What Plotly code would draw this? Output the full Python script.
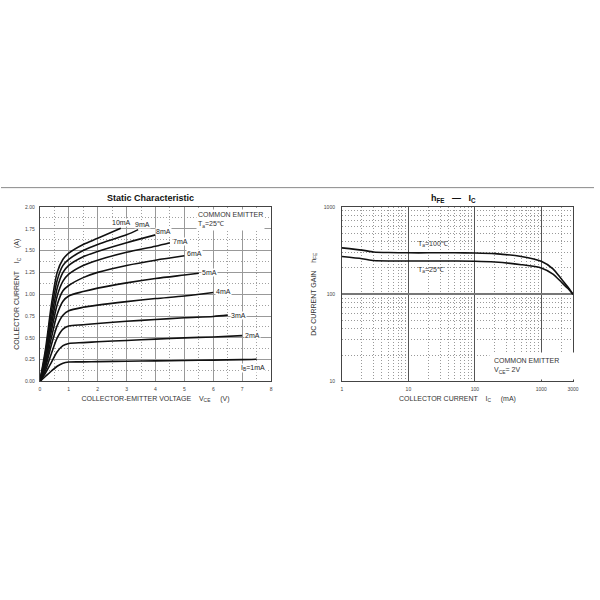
import plotly.graph_objects as go

# ---------------- data: static characteristic (Ic vs Vce) ----------------
vce_1mA = [0, 0.2, 0.4, 0.6, 0.8, 1.0, 1.5, 2, 3, 4, 5, 6, 7, 7.5]
ic_1mA = [0, 0.06, 0.12, 0.175, 0.21, 0.223, 0.225, 0.228, 0.232, 0.236, 0.24, 0.245, 0.25, 0.255]
vce_2mA = [0, 0.2, 0.4, 0.6, 0.8, 1.0, 1.5, 2, 3, 4, 5, 6, 7]
ic_2mA = [0, 0.1, 0.22, 0.34, 0.41, 0.435, 0.445, 0.455, 0.47, 0.485, 0.5, 0.51, 0.525]
vce_3mA = [0, 0.2, 0.4, 0.6, 0.8, 1.0, 1.5, 2, 3, 4, 5, 6, 6.5]
ic_3mA = [0, 0.13, 0.32, 0.5, 0.6, 0.635, 0.65, 0.665, 0.69, 0.71, 0.73, 0.745, 0.76]
vce_4mA = [0, 0.2, 0.4, 0.6, 0.8, 1.0, 1.5, 2, 3, 4, 5, 6]
ic_4mA = [0, 0.17, 0.42, 0.64, 0.76, 0.81, 0.85, 0.875, 0.915, 0.95, 0.98, 1.02]
vce_5mA = [0, 0.2, 0.4, 0.6, 0.8, 1.0, 1.5, 2, 3, 4, 5, 5.5]
ic_5mA = [0, 0.2, 0.5, 0.77, 0.92, 0.98, 1.03, 1.07, 1.13, 1.18, 1.22, 1.24]
vce_6mA = [0, 0.2, 0.4, 0.6, 0.8, 1.0, 1.5, 2, 3, 4, 5]
ic_6mA = [0, 0.24, 0.58, 0.88, 1.04, 1.10, 1.19, 1.25, 1.33, 1.39, 1.44]
vce_7mA = [0, 0.2, 0.4, 0.6, 0.8, 1.0, 1.5, 2, 3, 4, 4.5]
ic_7mA = [0, 0.27, 0.65, 0.98, 1.15, 1.23, 1.33, 1.39, 1.48, 1.55, 1.59]
vce_8mA = [0, 0.2, 0.4, 0.6, 0.8, 1.0, 1.5, 2, 3, 4]
ic_8mA = [0, 0.3, 0.72, 1.07, 1.25, 1.33, 1.43, 1.49, 1.59, 1.68]
vce_9mA = [0, 0.2, 0.4, 0.6, 0.8, 1.0, 1.5, 2, 3, 3.4]
ic_9mA = [0, 0.34, 0.8, 1.16, 1.33, 1.40, 1.50, 1.57, 1.68, 1.74]
vce_10mA = [0, 0.2, 0.4, 0.6, 0.8, 1.0, 1.5, 2, 2.8]
ic_10mA = [0, 0.38, 0.88, 1.25, 1.40, 1.47, 1.57, 1.64, 1.755]

ib_labels = ["I<sub>B</sub>=1mA", "2mA", "3mA", "4mA", "5mA", "6mA", "7mA", "8mA", "9mA", "10mA"]

# ---------------- data: hFE vs Ic ----------------
ic_ma = [1, 2, 3, 5, 10, 20, 50, 100, 200, 500, 1000, 1500, 2000, 2500, 3000]
hfe_100c = [340, 320, 305, 300, 298, 298, 298, 297, 292, 270, 238, 195, 150, 122, 100]
hfe_25c = [270, 255, 243, 240, 240, 240, 240, 239, 234, 218, 200, 170, 138, 117, 100]

x_ticks_left = [0, 1, 2, 3, 4, 5, 6, 7, 8]
y_ticks_left = [0, 0.25, 0.5, 0.75, 1.0, 1.25, 1.5, 1.75, 2.0]
x_ticks_right = [1, 10, 100, 1000, 3000]
y_ticks_right = [10, 100, 1000]

FONT = "Liberation Sans, Arial, sans-serif"
W = H = 600
DOT = "1px,2px"

def px(xp):
    return xp / W

def py(yp):
    return 1 - yp / H

fig = go.Figure()

curves = [(vce_1mA, ic_1mA), (vce_2mA, ic_2mA), (vce_3mA, ic_3mA), (vce_4mA, ic_4mA),
          (vce_5mA, ic_5mA), (vce_6mA, ic_6mA), (vce_7mA, ic_7mA), (vce_8mA, ic_8mA),
          (vce_9mA, ic_9mA), (vce_10mA, ic_10mA)]
for (xs, ys), name in zip(curves, ib_labels):
    fig.add_trace(go.Scatter(x=xs, y=ys, mode="lines", name=name,
                             line=dict(color="#111", width=1.6, shape="spline", smoothing=0.8),
                             xaxis="x", yaxis="y", showlegend=False, hoverinfo="skip"))

fig.add_trace(go.Scatter(x=ic_ma, y=hfe_100c, mode="lines", xaxis="x2", yaxis="y2",
                         line=dict(color="#111", width=1.6, shape="spline", smoothing=0.6),
                         showlegend=False, hoverinfo="skip"))
fig.add_trace(go.Scatter(x=ic_ma, y=hfe_25c, mode="lines", xaxis="x2", yaxis="y2",
                         line=dict(color="#111", width=1.6, shape="spline", smoothing=0.6),
                         showlegend=False, hoverinfo="skip"))

# label offsets (pixels) relative to curve end points
label_style = [
    dict(xanchor="center", yanchor="middle", xshift=-4, yshift=-9),   # 1mA
    dict(xanchor="left", yanchor="middle", xshift=2, yshift=0),       # 2mA
    dict(xanchor="left", yanchor="middle", xshift=2, yshift=0),       # 3mA
    dict(xanchor="left", yanchor="middle", xshift=2, yshift=1),       # 4mA
    dict(xanchor="left", yanchor="middle", xshift=2, yshift=1),       # 5mA
    dict(xanchor="left", yanchor="middle", xshift=2, yshift=2),       # 6mA
    dict(xanchor="left", yanchor="middle", xshift=2, yshift=1),       # 7mA
    dict(xanchor="left", yanchor="middle", xshift=0, yshift=3),       # 8mA
    dict(xanchor="center", yanchor="middle", xshift=4, yshift=5),     # 9mA
    dict(xanchor="center", yanchor="middle", xshift=1, yshift=6),     # 10mA
]
annotations = []
for (xs, ys), name, st in zip(curves, ib_labels, label_style):
    annotations.append(dict(x=xs[-1], y=ys[-1], xref="x", yref="y", text=name,
                            showarrow=False, font=dict(family=FONT, size=7, color="#222"),
                            bgcolor="white", borderpad=0, **st))

annotations += [
    dict(x=px(151.5), y=py(197), xref="paper", yref="paper", text="<b>Static Characteristic</b>",
         showarrow=False, font=dict(family=FONT, size=9, color="#111"), xanchor="center", yanchor="middle"),
    dict(x=px(458), y=py(197), xref="paper", yref="paper",
         text="<b>h<sub>FE</sub>   —   I<sub>C</sub></b>",
         showarrow=False, font=dict(family=FONT, size=9, color="#111"), xanchor="center", yanchor="middle"),
    dict(x=px(197), y=py(208), xref="paper", yref="paper",
         text="COMMON EMITTER<br>T<sub>a</sub>=25℃", align="left",
         showarrow=False, font=dict(family=FONT, size=7, color="#333"), xanchor="left", yanchor="top",
         bgcolor="white", borderpad=1),
    dict(x=px(494), y=py(381), xref="paper", yref="paper",
         text="COMMON EMITTER<br>V<sub>CE</sub>= 2V", align="left", width=76,
         showarrow=False, font=dict(family=FONT, size=7, color="#333"), xanchor="left", yanchor="bottom",
         bgcolor="white", borderpad=4),
    dict(x=1.114, y=2.577, xref="x2", yref="y2", text="T<sub>a</sub>=100℃",
         showarrow=False, font=dict(family=FONT, size=7, color="#333"), xanchor="left", yanchor="middle"),
    dict(x=1.114, y=2.282, xref="x2", yref="y2", text="T<sub>a</sub>=25℃",
         showarrow=False, font=dict(family=FONT, size=7, color="#333"), xanchor="left", yanchor="middle"),
]

tickfont = dict(family=FONT, size=5, color="#444")
titlefont = dict(family=FONT, size=7, color="#333")

fig.update_layout(
    width=W, height=H, margin=dict(l=0, r=0, t=0, b=0),
    paper_bgcolor="white", plot_bgcolor="white",
    annotations=annotations,
    shapes=[dict(type="line", xref="paper", yref="paper", x0=0, x1=1, y0=py(186.5), y1=py(186.5),
                 line=dict(color="#8a8a8a", width=1))],
    xaxis=dict(domain=[px(39.3), px(273.3)], range=[0, 8], tickvals=x_ticks_left,
               showgrid=True, gridcolor="#999", gridwidth=1.3,
               minor=dict(dtick=0.5, showgrid=True, gridcolor="#a0a0a0", griddash=DOT, gridwidth=1),
               showline=True, linecolor="#444", linewidth=1, mirror=True, zeroline=False,
               tickfont=tickfont, ticks="", ticklabelstandoff=3,
               title=dict(text="COLLECTOR-EMITTER VOLTAGE    V<sub>CE</sub>     (V)", font=titlefont, standoff=4),
               anchor="y", fixedrange=True),
    yaxis=dict(domain=[py(382.3), py(206)], range=[0, 2], tickvals=y_ticks_left, tickformat=".2f",
               showgrid=True, gridcolor="#999", gridwidth=1.3,
               minor=dict(dtick=0.125, showgrid=True, gridcolor="#a0a0a0", griddash=DOT, gridwidth=1),
               showline=True, linecolor="#444", linewidth=1, mirror=True, zeroline=False,
               tickfont=tickfont, ticks="", ticklabelstandoff=3,
               title=dict(text="COLLECTOR CURRENT    I<sub>C</sub>     (A)", font=titlefont, standoff=4),
               anchor="x", fixedrange=True),
    xaxis2=dict(domain=[px(345), px(578.7)], type="log", range=[0, 3.4771], tickvals=x_ticks_right,
                ticktext=[str(v) for v in x_ticks_right],
                showgrid=True, gridcolor="#555", gridwidth=1,
                minor=dict(tickmode="array",
                           tickvals=[2, 3, 4, 5, 6, 7, 8, 9, 20, 30, 40, 50, 60, 70, 80, 90,
                                     200, 300, 400, 500, 600, 700, 800, 900, 2000],
                           showgrid=True, gridcolor="#999", griddash=DOT, gridwidth=1),
                showline=True, linecolor="#444", linewidth=1, mirror=True, zeroline=False,
                tickfont=tickfont, ticks="", ticklabelstandoff=3,
                title=dict(text="COLLECTOR CURRENT    I<sub>C</sub>     (mA)", font=titlefont, standoff=4),
                anchor="y2", fixedrange=True),
    yaxis2=dict(domain=[py(382.3), py(206)], type="log", range=[1, 3], tickvals=y_ticks_right,
                ticktext=[str(v) for v in y_ticks_right],
                showgrid=True, gridcolor="#777", gridwidth=1.5,
                minor=dict(tickmode="array",
                           tickvals=[20, 30, 40, 50, 60, 70, 80, 90, 200, 300, 400, 500, 600, 700, 800, 900],
                           showgrid=True, gridcolor="#999", griddash=DOT, gridwidth=1),
                showline=True, linecolor="#444", linewidth=1, mirror=True, zeroline=False,
                tickfont=tickfont, ticks="", ticklabelstandoff=5,
                title=dict(text="DC CURRENT GAIN    h<sub>FE</sub>", font=titlefont, standoff=6),
                anchor="x2", fixedrange=True),
)

fig.write_html("out.html", config={"displayModeBar": False},
               post_script="document.body.style.margin='0';document.body.style.padding='0';")
